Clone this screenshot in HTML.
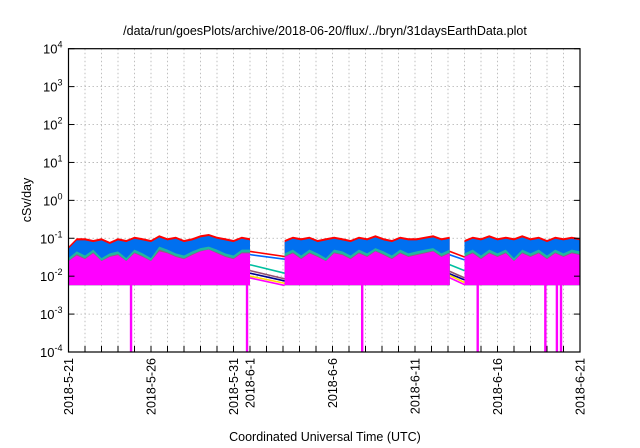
<!DOCTYPE html>
<html><head><meta charset="utf-8"><style>
html,body{margin:0;padding:0;background:#fff;}
svg{display:block;font-family:"Liberation Sans",sans-serif;}
</style></head><body>
<svg id="chart" width="640" height="448" viewBox="0 0 640 448">
<text x="325" y="35" font-size="12.5" text-anchor="middle">/data/run/goesPlots/archive/2018-06-20/flux/../bryn/31daysEarthData.plot</text>
<text x="325" y="441" font-size="12.5" text-anchor="middle">Coordinated Universal Time (UTC)</text>
<text x="0" y="0" font-size="12.5" text-anchor="middle" transform="translate(31,200) rotate(-90)">cSv/day</text>
<g id="grid"></g><g id="data"></g><g id="axes"></g>
</svg>
<script>
// ---- data ----
const yTicks = [-4,-3,-2,-1,0,1,2,3,4];
const xTickDays = [0,5,10,11,16,21,26,31];
const xTickLabels = ["2018-5-21","2018-5-26","2018-5-31","2018-6-1","2018-6-6","2018-6-11","2018-6-16","2018-6-21"];
// segments: start day, step 0.5 day
const segStarts = [0, 13.1, 24];
const redTop = [
 [0.06,0.1,0.1,0.09,0.1,0.08,0.1,0.09,0.11,0.1,0.09,0.12,0.1,0.11,0.09,0.1,0.12,0.13,0.11,0.1,0.09,0.11,0.1],
 [0.09,0.11,0.1,0.11,0.09,0.1,0.11,0.1,0.09,0.11,0.1,0.12,0.1,0.09,0.11,0.1,0.1,0.11,0.12,0.1,0.11],
 [0.09,0.11,0.1,0.12,0.1,0.11,0.1,0.12,0.1,0.11,0.09,0.11,0.1,0.11,0.1]
];
const blueBottom = [
 [0.03,0.045,0.035,0.05,0.03,0.04,0.045,0.03,0.05,0.04,0.03,0.06,0.05,0.04,0.035,0.045,0.055,0.06,0.05,0.04,0.035,0.05,0.05],
 [0.04,0.05,0.035,0.05,0.04,0.03,0.05,0.045,0.035,0.05,0.04,0.055,0.045,0.035,0.05,0.04,0.045,0.05,0.055,0.04,0.05],
 [0.04,0.05,0.035,0.05,0.04,0.05,0.03,0.05,0.04,0.05,0.035,0.05,0.04,0.05,0.045]
];
const magentaTop = [
 [0.025,0.035,0.028,0.04,0.025,0.032,0.036,0.025,0.04,0.032,0.025,0.045,0.04,0.032,0.028,0.036,0.045,0.05,0.04,0.032,0.028,0.04,0.04],
 [0.032,0.04,0.028,0.04,0.032,0.025,0.04,0.036,0.028,0.04,0.032,0.045,0.036,0.028,0.04,0.032,0.036,0.04,0.045,0.032,0.04],
 [0.032,0.04,0.028,0.04,0.032,0.04,0.025,0.04,0.032,0.04,0.028,0.04,0.032,0.04,0.036]
];
const bandBottom = 0.0058;
const dropDays = [3.79, 10.82, 17.8, 24.8, 28.9, 29.6, 29.85];
const gapColors = ["#ff0000","#0066ff","#00c0a0","#905070","#000090","#ffdd00","#ff00ff"];
const gap1Start = [0.045,0.037,0.02,0.014,0.012,0.010,0.009];
const gap1End =   [0.033,0.028,0.012,0.0085,0.0075,0.0065,0.0057];
const gap2Start = [0.047,0.038,0.021,0.014,0.012,0.011,0.0095];
const gap2End =   [0.032,0.027,0.014,0.009,0.008,0.0068,0.006];
// ---- axes ----
const X0=68.5, X1=580, Y0=352, Y1=48.7, NDAYS=31;
const xs = d => X0 + d*(X1-X0)/NDAYS;
const ys = v => Y0 - (Math.log10(v)+4)*(Y0-Y1)/8;
const NS="http://www.w3.org/2000/svg";
function mk(tag, parent, attrs){const e=document.createElementNS(NS,tag);for(const k in attrs)e.setAttribute(k,attrs[k]);parent.appendChild(e);return e;}
const grid=document.getElementById('grid'), data=document.getElementById('data'), axes=document.getElementById('axes');
for(let d=1; d<NDAYS; d++){
  const l=mk('line',grid,{x1:xs(d),x2:xs(d),y1:Y1,y2:Y0,stroke:'#b0b0b0','stroke-width':0.8,'stroke-dasharray':'1.5,2.5'});
  
  
  const t=mk('line',axes,{x1:xs(d),x2:xs(d),y1:Y0,y2:Y0-6,stroke:'#000','stroke-width':1});
  
  
}
yTicks.forEach(p=>{
  const y=ys(Math.pow(10,p));
  if(p>-4&&p<4){
    const l=mk('line',grid,{x1:X0,x2:X1,y1:y,y2:y,stroke:'#b0b0b0','stroke-width':0.8,'stroke-dasharray':'1.5,2.5'});
    
    
  }
  mk('line',axes,{x1:X0,x2:X0+6,y1:y,y2:y,stroke:'#000'});
  mk('line',axes,{x1:X1,x2:X1-6,y1:y,y2:y,stroke:'#000'});
  const t=mk('text',axes,{x:X0-6,y:y+5,'font-size':13,'text-anchor':'end'});
  
  
  t.appendChild(document.createTextNode('10'));
  const s=mk('tspan',t,{dy:-6,'font-size':9});s.textContent=String(p);
});
xTickDays.forEach((d,i)=>{
  const t=mk('text',axes,{x:0,y:0,'font-size':12.5,'text-anchor':'end',transform:`translate(${xs(d)+4.5},${Y0+6}) rotate(-90)`});
  
  
  t.textContent=xTickLabels[i];
});
// gap lines
[[11,13.1,gap1Start,gap1End],[23,24,gap2Start,gap2End]].forEach(([a,b,s,e])=>{
  gapColors.forEach((c,i)=>{
    const l=mk('line',data,{x1:xs(a),x2:xs(b),y1:ys(s[i]),y2:ys(e[i]),stroke:c,'stroke-width':1.6});
    
    
  });
});
// bands
function band(seg, topArr, botArr, color, name){
  const st=segStarts[seg]; const n=topArr.length;
  let pts=[];
  for(let i=0;i<n;i++) pts.push(xs(st+i*0.5)+','+ys(topArr[i]));
  for(let i=n-1;i>=0;i--) pts.push(xs(st+i*0.5)+','+ys(typeof botArr==='number'?botArr:botArr[i]));
  const p=mk('polygon',data,{points:pts.join(' '),fill:color});
  
  
}
for(let s=0;s<3;s++){
  band(s, redTop[s], bandBottom, '#ff0000', 'red-series');
  band(s, redTop[s].map(v=>v*0.88), bandBottom, '#0070f0', 'blue-series');
  band(s, blueBottom[s], bandBottom, '#20b8a0', 'teal-series');
  band(s, blueBottom[s].map(v=>v*0.85), bandBottom, '#906080', 'purple-series');
  band(s, magentaTop[s], bandBottom, '#ff00ff', 'magenta-series');
}
dropDays.forEach(d=>{
  const r=mk('rect',data,{x:xs(d)-1.2,y:ys(0.006),width:2.4,height:Y0-ys(0.006),fill:'#ff00ff'});
  
  
});
const frame=mk('rect',axes,{x:X0,y:Y1,width:X1-X0,height:Y0-Y1,fill:'none',stroke:'#000','stroke-width':1.2});


</script>
</body></html>
